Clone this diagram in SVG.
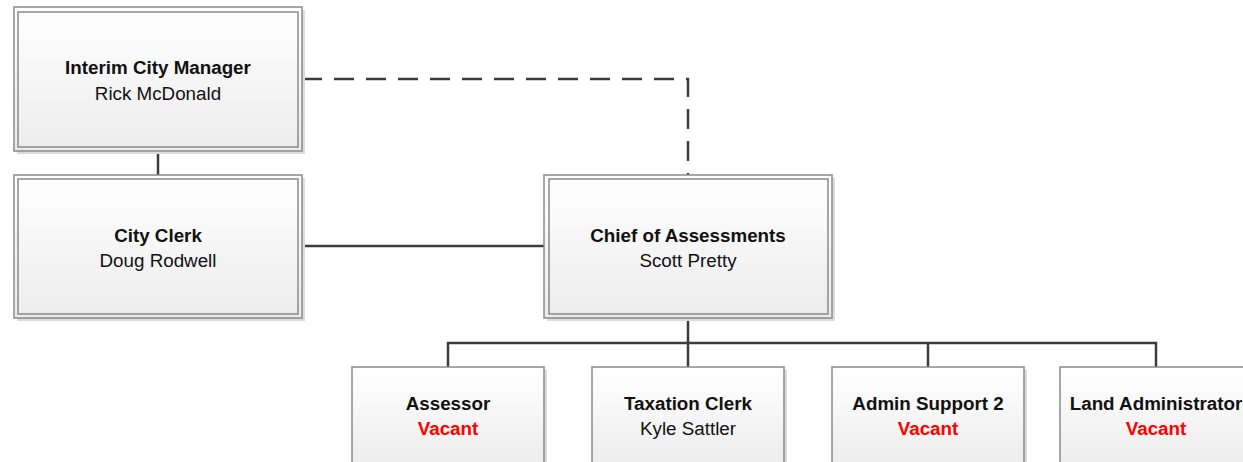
<svg xmlns="http://www.w3.org/2000/svg" width="1243" height="462" viewBox="0 0 1243 462">
<defs>
<linearGradient id="g" x1="0" y1="0" x2="0" y2="1">
<stop offset="0" stop-color="#ffffff"/>
<stop offset="1" stop-color="#ececec"/>
</linearGradient>
<style>
.sh{fill:#dcdcdc}
.o{fill:url(#g);stroke:#8a8a8a;stroke-width:1.5}
.i{fill:none;stroke:#8a8a8a;stroke-width:1.5}
.t{font-family:"Liberation Sans",Arial,sans-serif;font-size:18.8px;text-anchor:middle;fill:#111}
.b{font-weight:bold}
.v{fill:#ff0000;font-weight:bold}
.c{fill:none;stroke:#3c3c3c;stroke-width:2.5}
.d{fill:none;stroke:#3c3c3c;stroke-width:2.5;stroke-dasharray:20 12}
</style>
</defs>
<g id="connectors">
<line class="c" x1="158" y1="151" x2="158" y2="175"/>
<line class="c" x1="302" y1="246" x2="544" y2="246"/>
<polyline class="d" points="302,79 688,79 688,175"/>
<line class="c" x1="688" y1="318" x2="688" y2="367"/>
<polyline class="c" points="448,367 448,343 1156,343 1156,367"/>
<line class="c" x1="928" y1="343" x2="928" y2="367"/>
</g>
<g id="interim">
<rect class="sh" x="17" y="10" width="288" height="144"/>
<rect class="o" x="14" y="7" width="288" height="144"/>
<rect class="i" x="18" y="12" width="280" height="135"/>
<text class="t b" x="158" y="74">Interim City Manager</text>
<text class="t" x="158" y="100">Rick McDonald</text>
</g>
<g id="clerk">
<rect class="sh" x="17" y="178" width="288" height="143"/>
<rect class="o" x="14" y="175" width="288" height="143"/>
<rect class="i" x="18" y="179" width="280" height="135"/>
<text class="t b" x="158" y="242">City Clerk</text>
<text class="t" x="158" y="267">Doug Rodwell</text>
</g>
<g id="chief">
<rect class="sh" x="547" y="178" width="288" height="143"/>
<rect class="o" x="544" y="175" width="288" height="143"/>
<rect class="i" x="549" y="179" width="279" height="135"/>
<text class="t b" x="688" y="242">Chief of Assessments</text>
<text class="t" x="688" y="267">Scott Pretty</text>
</g>
<g id="assessor">
<rect class="sh" x="355" y="370" width="192" height="100"/>
<rect class="o" x="352" y="367" width="192" height="100"/>
<text class="t b" x="448" y="410">Assessor</text>
<text class="t v" x="448" y="435">Vacant</text>
</g>
<g id="taxation">
<rect class="sh" x="595" y="370" width="192" height="100"/>
<rect class="o" x="592" y="367" width="192" height="100"/>
<text class="t b" x="688" y="410">Taxation Clerk</text>
<text class="t" x="688" y="435">Kyle Sattler</text>
</g>
<g id="admin">
<rect class="sh" x="835" y="370" width="192" height="100"/>
<rect class="o" x="832" y="367" width="192" height="100"/>
<text class="t b" x="928" y="410">Admin Support 2</text>
<text class="t v" x="928" y="435">Vacant</text>
</g>
<g id="land">
<rect class="sh" x="1063" y="370" width="192" height="100"/>
<rect class="o" x="1060" y="367" width="192" height="100"/>
<text class="t b" x="1156" y="410">Land Administrator</text>
<text class="t v" x="1156" y="435">Vacant</text>
</g>
</svg>
